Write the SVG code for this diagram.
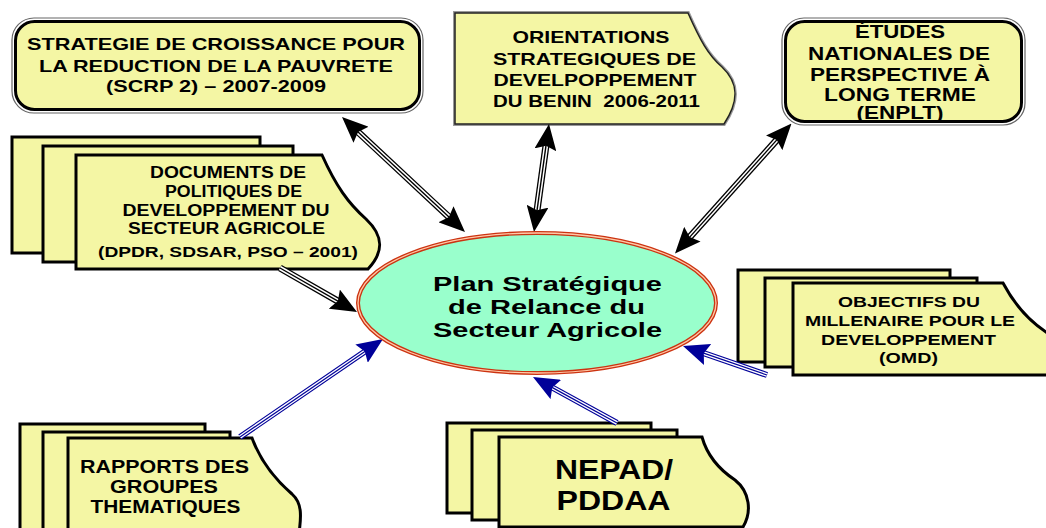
<svg xmlns="http://www.w3.org/2000/svg" width="1046" height="528" viewBox="0 0 1046 528">
<style>
.t{font-family:"Liberation Sans",Arial,sans-serif;font-weight:bold;fill:#000;text-anchor:middle}
.pg{fill:#f4f6a4;stroke:#000;stroke-width:3;stroke-linejoin:miter}
.rOut{fill:none;stroke:#666;stroke-width:1.2}
.rIn{fill:#f4f6a4;stroke:#000;stroke-width:3}
.bk1{stroke:#000;stroke-width:7;fill:none}
.bk2{stroke:#fff;stroke-width:4.4;fill:none}
.bk3{stroke:#000;stroke-width:1.4;fill:none}
.bl1{stroke:#000099;stroke-width:6;fill:none}
.bl2{stroke:#fff;stroke-width:3.8;fill:none}
.bl3{stroke:#000099;stroke-width:1.2;fill:none}
</style>
<defs>
<marker id="hb" viewBox="0 0 26 22" refX="26" refY="11" markerWidth="26" markerHeight="22" markerUnits="userSpaceOnUse" orient="auto-start-reverse"><path d="M0,0 L26,11 L0,22 L4,11 Z" fill="#000"/></marker>
<marker id="hu" viewBox="0 0 26 22" refX="26" refY="11" markerWidth="26" markerHeight="22" markerUnits="userSpaceOnUse" orient="auto-start-reverse"><path d="M0,0 L26,11 L0,22 L4,11 Z" fill="#000099"/></marker>
</defs>
<rect width="1046" height="528" fill="#fff"/>

<g id="scrp">
<rect class="rOut" x="12" y="18" width="411" height="95" rx="22"/>
<rect class="rIn" x="15.5" y="21.5" width="404" height="88" rx="19"/>
<text class="t" font-size="16.5" x="216" y="50" textLength="378" lengthAdjust="spacingAndGlyphs">STRATEGIE DE CROISSANCE POUR</text>
<text class="t" font-size="16.5" x="216" y="72" textLength="354" lengthAdjust="spacingAndGlyphs">LA REDUCTION DE LA PAUVRETE</text>
<text class="t" font-size="16.5" x="216" y="92" textLength="220" lengthAdjust="spacingAndGlyphs">(SCRP 2) – 2007-2009</text>
</g>

<g id="orientations">
<path d="M455,13 L688,13 C700,40 708,55 722,67 C738,82 740,100 724,124 L455,124 Z" fill="none" stroke="#999" stroke-width="4"/>
<path d="M455,13 L688,13 C700,40 708,55 722,67 C738,82 740,100 724,124 L455,124 Z" fill="#f4f6a4" stroke="#222" stroke-width="1.5"/>
<text class="t" font-size="16.5" x="591" y="43" textLength="157" lengthAdjust="spacingAndGlyphs">ORIENTATIONS</text>
<text class="t" font-size="16.5" x="594.5" y="65" textLength="203" lengthAdjust="spacingAndGlyphs">STRATEGIQUES DE</text>
<text class="t" font-size="16.5" x="595" y="86" textLength="203" lengthAdjust="spacingAndGlyphs">DEVELPOPPEMENT</text>
<text class="t" font-size="16.5" x="596.5" y="107" textLength="207" lengthAdjust="spacingAndGlyphs">DU BENIN&#160; 2006-2011</text>
</g>

<g id="enplt">
<rect class="rOut" x="782" y="18" width="243" height="107" rx="22"/>
<rect class="rIn" x="785.5" y="21.5" width="236" height="100" rx="19"/>
<text class="t" font-size="18" x="900" y="38" textLength="90" lengthAdjust="spacingAndGlyphs">ÉTUDES</text>
<text class="t" font-size="18" x="899" y="60" textLength="182" lengthAdjust="spacingAndGlyphs">NATIONALES DE</text>
<text class="t" font-size="18" x="900" y="81" textLength="180" lengthAdjust="spacingAndGlyphs">PERSPECTIVE À</text>
<text class="t" font-size="18" x="900" y="101" textLength="152" lengthAdjust="spacingAndGlyphs">LONG TERME</text>
<text class="t" font-size="18" x="900" y="119" textLength="87" lengthAdjust="spacingAndGlyphs">(ENPLT)</text>
</g>

<g id="documents">
<rect class="pg" x="12" y="137" width="248" height="116"/>
<rect class="pg" x="43" y="146" width="250" height="116"/>
<path class="pg" d="M76,155 L322,155 C336,186 348,203 366,219 C384,236 384,252 368,269 L76,269 Z"/>
<text class="t" font-size="16" x="228" y="178" textLength="156" lengthAdjust="spacingAndGlyphs">DOCUMENTS DE</text>
<text class="t" font-size="16" x="233.5" y="197" textLength="137" lengthAdjust="spacingAndGlyphs">POLITIQUES DE</text>
<text class="t" font-size="16" x="226" y="216" textLength="207" lengthAdjust="spacingAndGlyphs">DEVELOPPEMENT DU</text>
<text class="t" font-size="16" x="226.5" y="234" textLength="197" lengthAdjust="spacingAndGlyphs">SECTEUR AGRICOLE</text>
<text class="t" font-size="15" x="228" y="257" textLength="260" lengthAdjust="spacingAndGlyphs">(DPDR, SDSAR, PSO – 2001)</text>
</g>

<g id="omd">
<rect class="pg" x="738" y="270" width="212" height="92"/>
<rect class="pg" x="765" y="278" width="212" height="89"/>
<path class="pg" d="M793,283 L1003,283 C1012,300 1025,318 1046,332 L1052,338 L1052,375 L793,375 Z"/>
<text class="t" font-size="14" x="909" y="307" textLength="142" lengthAdjust="spacingAndGlyphs">OBJECTIFS DU</text>
<text class="t" font-size="14" x="910" y="326" textLength="210" lengthAdjust="spacingAndGlyphs">MILLENAIRE POUR LE</text>
<text class="t" font-size="14" x="908.5" y="345" textLength="175" lengthAdjust="spacingAndGlyphs">DEVELOPPEMENT</text>
<text class="t" font-size="14" x="908.5" y="362.5" textLength="59" lengthAdjust="spacingAndGlyphs">(OMD)</text>
</g>

<g id="rapports">
<rect class="pg" x="20" y="424" width="185" height="120"/>
<rect class="pg" x="43" y="432" width="187" height="120"/>
<path class="pg" d="M68,438 L252,438 C262,465 278,482 292,494 C302,503 302,515 298,540 L68,540 Z"/>
<text class="t" font-size="17.5" x="164.5" y="473" textLength="169" lengthAdjust="spacingAndGlyphs">RAPPORTS DES</text>
<text class="t" font-size="17.5" x="164" y="493" textLength="108" lengthAdjust="spacingAndGlyphs">GROUPES</text>
<text class="t" font-size="17.5" x="165.5" y="513" textLength="150" lengthAdjust="spacingAndGlyphs">THEMATIQUES</text>
</g>

<g id="nepad">
<rect class="pg" x="447" y="423" width="204" height="90"/>
<rect class="pg" x="472" y="430" width="205" height="90"/>
<path class="pg" d="M499,437 L702,437 C707,455 720,470 735,480 C750,492 752,512 743,527 L499,527 Z"/>
<text class="t" font-size="27" x="614" y="479" textLength="118" lengthAdjust="spacingAndGlyphs">NEPAD/</text>
<text class="t" font-size="27" x="613.5" y="510" textLength="114" lengthAdjust="spacingAndGlyphs">PDDAA</text>
</g>

<g id="connectors">
<line class="bk1" x1="355.1" y1="129.3" x2="451.9" y2="219.7"/>
<line class="bk2" x1="355.1" y1="129.3" x2="451.9" y2="219.7"/>
<line class="bk3" x1="355.1" y1="129.3" x2="451.9" y2="219.7"/>
<path d="M342,117 L465,232" stroke="none" fill="none" marker-start="url(#hb)" marker-end="url(#hb)"/>

<line class="bk1" x1="546.5" y1="141.8" x2="536.5" y2="214.2"/>
<line class="bk2" x1="546.5" y1="141.8" x2="536.5" y2="214.2"/>
<line class="bk3" x1="546.5" y1="141.8" x2="536.5" y2="214.2"/>
<path d="M549,124 L534,232" stroke="none" fill="none" marker-start="url(#hb)" marker-end="url(#hb)"/>

<line class="bk1" x1="779.5" y1="136.9" x2="687" y2="240.1"/>
<line class="bk2" x1="779.5" y1="136.9" x2="687" y2="240.1"/>
<line class="bk3" x1="779.5" y1="136.9" x2="687" y2="240.1"/>
<path d="M791.5,123.5 L675,253.5" stroke="none" fill="none" marker-start="url(#hb)" marker-end="url(#hb)"/>

<line class="bk1" x1="280" y1="268" x2="341.4" y2="303.1"/>
<line class="bk2" x1="280" y1="268" x2="341.4" y2="303.1"/>
<line class="bk3" x1="280" y1="268" x2="341.4" y2="303.1"/>
<path d="M280,268 L357,312" stroke="none" fill="none" marker-end="url(#hb)"/>

<line class="bl1" x1="240" y1="437" x2="368.2" y2="349.2"/>
<line class="bl2" x1="240" y1="437" x2="368.2" y2="349.2"/>
<line class="bl3" x1="240" y1="437" x2="368.2" y2="349.2"/>
<path d="M240,437 L383,339" stroke="none" fill="none" marker-end="url(#hu)"/>

<line class="bl1" x1="617" y1="423" x2="548.8" y2="385.6"/>
<line class="bl2" x1="617" y1="423" x2="548.8" y2="385.6"/>
<line class="bl3" x1="617" y1="423" x2="548.8" y2="385.6"/>
<path d="M617,423 L533,377" stroke="none" fill="none" marker-end="url(#hu)"/>

<line class="bl1" x1="767" y1="375" x2="700" y2="351.9"/>
<line class="bl2" x1="767" y1="375" x2="700" y2="351.9"/>
<line class="bl3" x1="767" y1="375" x2="700" y2="351.9"/>
<path d="M767,375 L683,346" stroke="none" fill="none" marker-end="url(#hu)"/>
</g>

<g id="plan">
<ellipse cx="537" cy="303" rx="179" ry="70" fill="#99ffcc" stroke="#cc3311" stroke-width="4"/>
<ellipse cx="537" cy="303" rx="179" ry="70" fill="none" stroke="#ffc9a8" stroke-width="1.3"/>
<text class="t" font-size="19.5" x="547.5" y="291" textLength="229" lengthAdjust="spacingAndGlyphs">Plan Stratégique</text>
<text class="t" font-size="19.5" x="546.5" y="313.5" textLength="197" lengthAdjust="spacingAndGlyphs">de Relance du</text>
<text class="t" font-size="19.5" x="547.5" y="337" textLength="229" lengthAdjust="spacingAndGlyphs">Secteur Agricole</text>
</g>
</svg>
